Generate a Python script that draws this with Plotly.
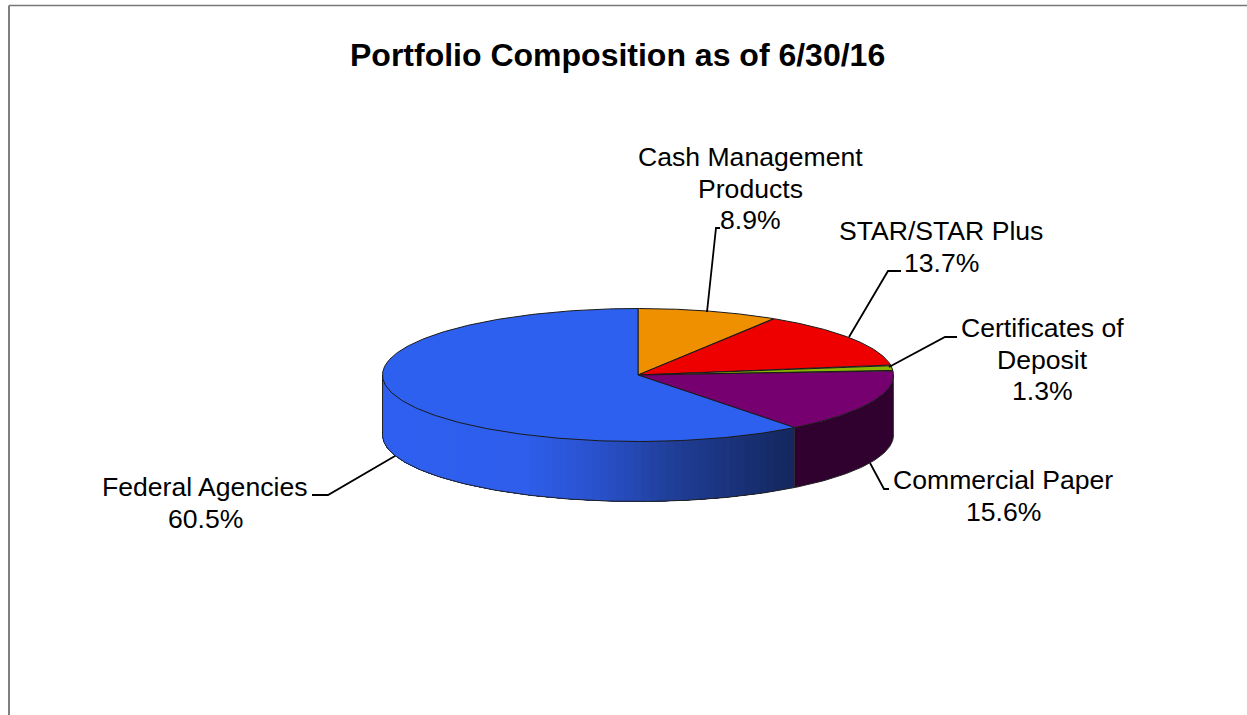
import numpy as np
import plotly.graph_objects as go

# ---- data ----
category_lines = [["Cash Management", "Products"], ["STAR/STAR Plus"], ["Certificates of", "Deposit"],
                  ["Commercial Paper"], ["Federal Agencies"]]
values = [8.9, 13.7, 1.3, 15.6, 60.5]
value_labels = ["8.9%", "13.7%", "1.3%", "15.6%", "60.5%"]
title_text = "Portfolio Composition as of 6/30/16"

# ---- style ----
colors = ["#EE9000", "#EE0000", "#8DB500", "#760070", "#2E60F0"]
FONT = "Liberation Sans, Arial, sans-serif"
W, H = 1247, 715
CX, CY, RX, RY, DEPTH = 638, 375, 255.5, 66.5, 60
LINE_H = 31.6
# x centre and y of first line for each label
label_pos = [(750, 157), (941, 231), (1042, 328), (1003, 480), (205, 487)]
leaders = [
    ([707, 716, 720], [312, 228, 228]),
    ([849, 888, 901], [337, 271, 271]),
    ([889, 945, 957], [367, 337, 337]),
    ([870, 884, 889], [463, 489, 489]),
    ([395, 328, 312], [456, 495, 495]),
]
wall_stops = [(382, (46, 96, 240)), (530, (46, 94, 235)), (600, (42, 82, 205)),
              (680, (32, 62, 150)), (794, (20, 40, 95))]
shade_purple = "#30002F"


def ell(theta):
    return CX + RX * np.sin(theta), CY - RY * np.cos(theta)


fig = go.Figure()
fracs = np.cumsum([0] + values) / sum(values) * 2 * np.pi


def wall_color(x):
    xs = [s[0] for s in wall_stops]
    return "rgb(%d,%d,%d)" % tuple(np.interp(x, xs, [s[1][i] for s in wall_stops]) for i in range(3))


def add_poly(x, y, fill, line=None, width=0):
    fig.add_trace(go.Scatter(x=x, y=y, mode="lines", fill="toself", fillcolor=fill,
                             line=dict(color=line or fill, width=width),
                             hoverinfo="skip", showlegend=False))


def add_line(x, y, color, width):
    fig.add_trace(go.Scatter(x=x, y=y, mode="lines", line=dict(color=color, width=width),
                             hoverinfo="skip", showlegend=False))


# side wall: blue portion painted dark-to-light, each band running on to the left edge
blue_start, blue_end = fracs[4], 1.5 * np.pi
edges = np.linspace(blue_start, blue_end, 70)
for a in edges[:-1]:
    t = np.linspace(a, blue_end, 80)
    x, y = ell(t)
    add_poly(list(x) + list(x[::-1]), list(y) + list((y + DEPTH)[::-1]), wall_color(x[0]))
t = np.linspace(0.5 * np.pi, fracs[4], 60)
x, y = ell(t)
add_poly(list(x) + list(x[::-1]), list(y) + list((y + DEPTH)[::-1]), shade_purple)

# wall outline
t = np.linspace(0.5 * np.pi, 1.5 * np.pi, 240)
x, y = ell(t)
add_line(list(x) + [x[-1]], list(y + DEPTH) + [y[-1]], "#222222", 1)
x, y = ell(np.array([fracs[4]]))
add_line([x[0], x[0]], [y[0], y[0] + DEPTH], "#1a1a1a", 0.7)
x, y = ell(np.array([0.5 * np.pi]))
add_line([x[0], x[0]], [y[0], y[0] + DEPTH], "#333333", 0.8)

# top slices
for i, c in enumerate(colors):
    t = np.linspace(fracs[i], fracs[i + 1], 240)
    x, y = ell(t)
    add_poly([CX] + list(x) + [CX], [CY] + list(y) + [CY], c, line="#1a1a1a", width=1)

# leader lines
for lx, ly in leaders:
    add_line(lx, ly, "black", 1.8)

# labels: each line placed on its own so the line pitch matches
for cat, val, (lx, ly) in zip(category_lines, value_labels, label_pos):
    for j, line in enumerate(cat + [val]):
        fig.add_annotation(x=lx, y=ly + j * LINE_H, text=line, showarrow=False, xanchor="center",
                           yanchor="middle", font=dict(family=FONT, size=26.6, color="black"))

fig.add_annotation(x=617.5, y=55, text=f"<b>{title_text}</b>", showarrow=False, xanchor="center",
                   yanchor="middle", font=dict(family=FONT, size=32, color="black"))

# frame
fig.add_shape(type="line", x0=9, x1=9, y0=5.5, y1=H, line=dict(color="#555555", width=1.5))
fig.add_shape(type="line", x0=9, x1=W, y0=5.5, y1=5.5, line=dict(color="#777777", width=1.5))

fig.update_layout(width=W, height=H, margin=dict(l=0, r=0, t=0, b=0), autosize=False,
                  paper_bgcolor="white", plot_bgcolor="white", showlegend=False,
                  xaxis=dict(range=[0, W], visible=False, fixedrange=True),
                  yaxis=dict(range=[H, 0], visible=False, fixedrange=True))
fig.write_html("out.html", config=dict(displayModeBar=False),
               post_script="document.body.style.margin='0';document.documentElement.style.overflow='hidden';")
